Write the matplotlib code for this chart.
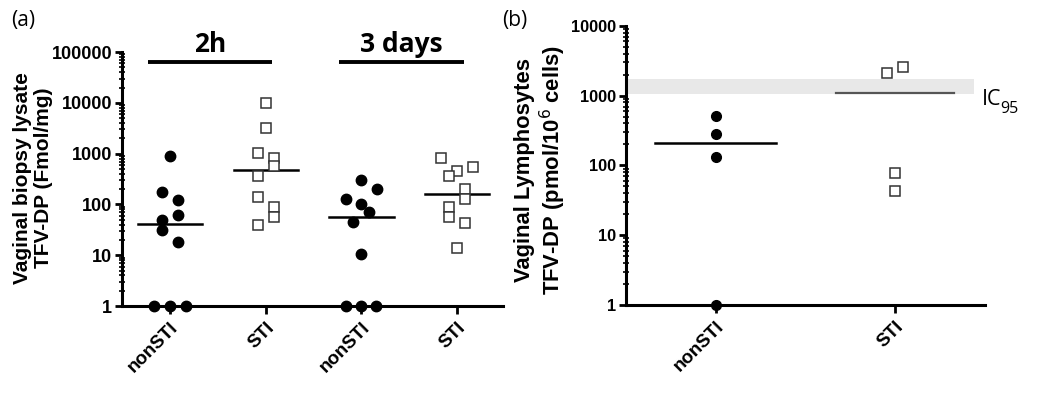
import numpy as np
import matplotlib
matplotlib.use("Agg")
from matplotlib import pyplot as plt
from matplotlib.ticker import LogLocator, FixedLocator, FixedFormatter, NullFormatter

plt.rcParams['font.family'] = ['Liberation Sans', 'DejaVu Sans']

# panel (a): vaginal biopsy lysate, fmol/mg
a_labels = ["nonSTI", "STI", "nonSTI", "STI"]
a_non_2h = [910, 175, 122, 62, 49, 32, 18, 1, 1, 1]
a_non_2h_x = [0, -0.25, 0.25, 0.25, -0.25, -0.25, 0.25, -0.5, 0, 0.5]
a_sti_2h = [10000, 3160, 1020, 810, 580, 370, 142, 90, 57, 39]
a_sti_2h_x = [0, 0, -0.25, 0.25, 0.25, -0.25, -0.25, 0.25, 0.25, -0.25]
a_non_3d = [302, 200, 131, 104, 71, 45, 10.8, 1, 1, 1]
a_non_3d_x = [0, 0.5, -0.47, 0, 0.25, -0.25, 0, -0.47, 0, 0.47]
a_sti_3d = [810, 550, 455, 363, 200, 127, 90, 57, 43, 14]
a_sti_3d_x = [-0.5, 0.5, 0, -0.25, 0.25, 0.25, -0.25, -0.25, 0.25, 0]
a_groups = ["2h", "3 days"]

# panel (b): vaginal lymphocytes, pmol/10^6 cells
b_labels = ["nonSTI", "STI"]
b_non = [513, 284, 134, 1]
b_non_x = [0, 0, 0, 0]
b_sti = [2130, 2560, 77, 43]
b_sti_x = [-0.043, 0.043, 0, 0]
ic95_band = [1070, 1760]

fig = plt.figure(figsize=(10.5, 3.98), dpi=100)
ax1 = fig.add_axes([0.1162, 0.231, 0.363, 0.638])
ax2 = fig.add_axes([0.596, 0.2337, 0.342, 0.701])


def style_axis(ax, labels, yt, ysize):
    ax.set_yscale('log')
    for s in ['top', 'right']:
        ax.spines[s].set_visible(False)
    ax.spines['left'].set_linewidth(2.2)
    ax.spines['bottom'].set_linewidth(2.2)
    ax.set_xticks(range(len(labels)))
    ax.set_xticklabels(labels, rotation=45, ha='right', rotation_mode='anchor',
                       fontsize=13.5, fontweight='bold')
    ax.tick_params(axis='x', length=6, width=2)
    ax.tick_params(axis='y', which='major', length=5, width=2, labelsize=ysize, pad=2)
    ax.tick_params(axis='y', which='minor', length=4, width=1.2, direction='inout')
    ax.yaxis.set_major_locator(FixedLocator(yt))
    ax.yaxis.set_major_formatter(FixedFormatter([str(v) for v in yt]))
    ax.yaxis.set_minor_locator(LogLocator(base=10, subs=np.arange(2, 10)))
    ax.yaxis.set_minor_formatter(NullFormatter())
    for t in ax.get_yticklabels():
        t.set_fontweight('bold')


# ---- panel (a) ----
sp = 0.333  # horizontal jitter scale
series_a = [(a_non_2h, a_non_2h_x, 'o'), (a_sti_2h, a_sti_2h_x, 's'),
            (a_non_3d, a_non_3d_x, 'o'), (a_sti_3d, a_sti_3d_x, 's')]
for i, (vals, dx, m) in enumerate(series_a):
    xs = i + np.array(dx) * sp
    if m == 'o':
        ax1.plot(xs, vals, 'o', ms=7.5, color='black', clip_on=False, zorder=4)
    else:
        ax1.plot(xs, vals, 's', ms=7, mfc='white', mec='#333333', mew=1.1,
                 clip_on=False, zorder=4)
    med = np.median(vals)
    ax1.plot([i - 0.335, i + 0.335], [med, med], color='black', lw=1.8, zorder=3)

ax1.set_xlim(-0.5, 3.48)
ax1.set_ylim(1, 100000)
style_axis(ax1, a_labels, [1, 10, 100, 1000, 10000, 100000], 13)
ax1.set_ylabel("Vaginal biopsy lysate\nTFV-DP (Fmol/mg)", fontsize=15,
               fontweight='bold', linespacing=1.12)
ax1.yaxis.set_label_coords(-0.181, 0.504)

for j, g in enumerate(a_groups):
    x0 = 2 * j - 0.23
    x1 = 2 * j + 1.07
    ax1.plot([x0, x1], [65000, 65000], color='black', lw=2.8, clip_on=False,
             solid_capstyle='butt')
    ax1.text((x0 + x1) / 2, 100000, g, ha='center', va='baseline',
             fontsize=19, fontweight='bold', family=['Open Sans', 'DejaVu Sans'])

fig.text(0.011, 0.975, "(a)", fontsize=15, va='top', ha='left',
         family=['Open Sans', 'DejaVu Sans'])

# ---- panel (b) ----
ax2.axhspan(ic95_band[0], ic95_band[1], xmin=0, xmax=0.97, color='#e8e8e8',
            lw=0, zorder=0)
ax2.plot(np.array(b_non_x), b_non, 'o', ms=7, color='black', clip_on=False, zorder=4)
ax2.plot(1 + np.array(b_sti_x), b_sti, 's', ms=7, mfc='white',
         mec='#333333', mew=1.1, clip_on=False, zorder=4)
m0 = np.median(b_non)
m1 = np.median(b_sti)
ax2.plot([-0.335, 0.335], [m0, m0], color='black', lw=1.8, zorder=3)
ax2.plot([0.67, 1.33], [m1, m1], color='#555555', lw=1.6, zorder=3)

ax2.set_xlim(-0.5, 1.5)
ax2.set_ylim(1, 10000)
style_axis(ax2, b_labels, [1, 10, 100, 1000, 10000], 11.7)
ax2.set_ylabel("Vaginal Lymphosytes\nTFV-DP (pmol/10$^{6}$ cells)", fontsize=15.8,
               fontweight='bold', linespacing=1.1)
ax2.yaxis.set_label_coords(-0.1616, 0.484)

ax2.text(1.483, 883, "IC", fontsize=15.5, va='center', ha='left',
         family=['Open Sans', 'DejaVu Sans'], clip_on=False)
ax2.text(1.584, 646, "95", fontsize=11.5, va='center', ha='left',
         family=['Open Sans', 'DejaVu Sans'], clip_on=False)

fig.text(0.478, 0.975, "(b)", fontsize=15, va='top', ha='left',
         family=['Open Sans', 'DejaVu Sans'])

fig.savefig("out.png", dpi=100)
